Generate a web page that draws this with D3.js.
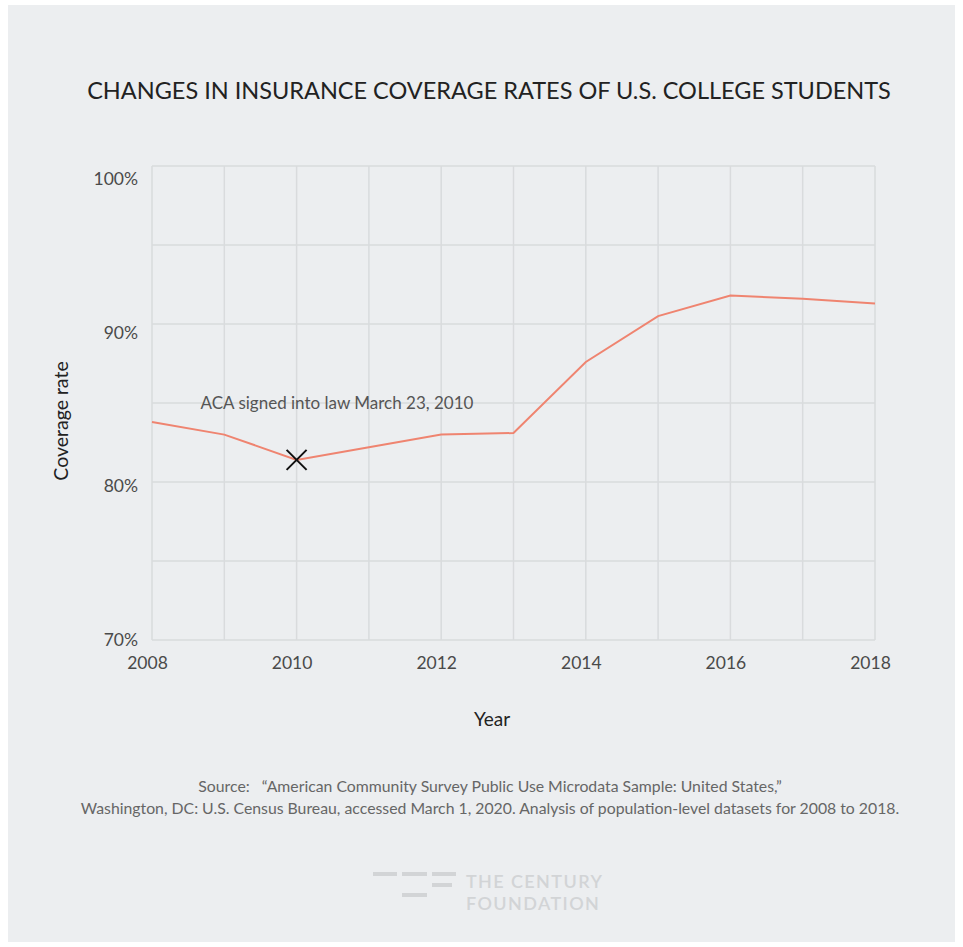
<!DOCTYPE html>
<html><head><meta charset="utf-8">
<script src="https://cdn.jsdelivr.net/npm/d3@7"></script>
<style>
html,body{margin:0;padding:0;background:#fff;}
svg{display:block;font-family:Lato, "Open Sans", sans-serif;}
</style></head>
<body>
<svg id="chart" width="963" height="947"></svg>
<script>
const years = [2008, 2009, 2010, 2011, 2012, 2013, 2014, 2015, 2016, 2017, 2018];
const coverage = [83.8, 83.0, 81.4, 82.2, 83.0, 83.1, 87.6, 90.5, 91.8, 91.6, 91.3];
const yTickValues = [70, 80, 90, 100];
const yGridValues = [70, 75, 80, 85, 90, 95, 100];
const xTickValues = [2008, 2010, 2012, 2014, 2016, 2018];
const annotationText = "ACA signed into law March 23, 2010";
const annotationYear = 2010;
const titleText = "CHANGES IN INSURANCE COVERAGE RATES OF U.S. COLLEGE STUDENTS";
const sourceLines = [
  "Source:   \u201cAmerican Community Survey Public Use Microdata Sample: United States,\u201d",
  "Washington, DC: U.S. Census Bureau, accessed March 1, 2020. Analysis of population-level datasets for 2008 to 2018."
];
const logoLines = ["THE CENTURY", "FOUNDATION"];

(function () {
const svg = d3.select("#chart");
svg.append("rect").attr("x", 8).attr("y", 5).attr("width", 947).attr("height", 937).attr("fill", "#eceef0");

const pL = 152, pR = 875, pT = 166, pB = 640;
const x = d3.scaleLinear().domain([2008, 2018]).range([pL, pR]);
const y = d3.scaleLinear().domain([70, 100]).range([pB, pT]);
// tick labels in the original sit on a slightly compressed scale
const yLab = d3.scaleLinear().domain([70, 100]).range([pB, pT + 13]);

// title
svg.append("text").attr("x", 489).attr("y", 99).attr("text-anchor", "middle")
  .attr("font-size", 23.5).attr("fill", "#222").text(titleText);

// grid
const g = svg.append("g");
g.selectAll("line.h").data(yGridValues).join("line").attr("class", "h")
  .attr("x1", pL).attr("x2", pR).attr("y1", d => y(d)).attr("y2", d => y(d))
  .attr("stroke", "#d9dbdd").attr("stroke-width", 1.5);
g.selectAll("line.v").data(years).join("line").attr("class", "v")
  .attr("x1", d => x(d)).attr("x2", d => x(d)).attr("y1", pT).attr("y2", pB)
  .attr("stroke", "#d9dbdd").attr("stroke-width", 1.5);

// axes
const yAxis = d3.axisLeft(yLab).tickValues(yTickValues).tickFormat(d => d + "%").tickSize(0).tickPadding(14);
const ya = svg.append("g").attr("transform", `translate(${pL},0)`).call(yAxis);
ya.select(".domain").remove();
ya.selectAll("text").attr("font-size", 17.5).attr("fill", "#4a4a4a").attr("font-family", "Lato, sans-serif");

const xAxis = d3.axisBottom(x).tickValues(xTickValues).tickFormat(d3.format("d")).tickSize(0).tickPadding(17);
const xa = svg.append("g").attr("transform", `translate(-5,${pB})`).call(xAxis);
xa.select(".domain").remove();
xa.selectAll("text").attr("font-size", 17.5).attr("fill", "#4a4a4a").attr("font-family", "Lato, sans-serif");

// axis titles
svg.append("text").attr("x", 492).attr("y", 726).attr("text-anchor", "middle")
  .attr("font-size", 19).attr("fill", "#222").text("Year");
svg.append("text").attr("transform", "translate(68,421) rotate(-90)").attr("text-anchor", "middle")
  .attr("font-size", 19.5).attr("fill", "#222").text("Coverage rate");

// line
const line = d3.line().x((d, i) => x(years[i])).y(d => y(d));
svg.append("path").datum(coverage).attr("d", line).attr("fill", "none")
  .attr("stroke", "#ef8470").attr("stroke-width", 2);

// annotation
const ai = years.indexOf(annotationYear);
const ax = x(annotationYear), ay = y(coverage[ai]);
const s = 10;
svg.append("path").attr("d", `M${ax - s},${ay - s}L${ax + s},${ay + s}M${ax - s},${ay + s}L${ax + s},${ay - s}`)
  .attr("stroke", "#111").attr("stroke-width", 2);
svg.append("text").attr("x", 337).attr("y", 409).attr("text-anchor", "middle")
  .attr("font-size", 17).attr("fill", "#555").text(annotationText);

// source
svg.selectAll("text.src").data(sourceLines).join("text").attr("class", "src")
  .attr("x", 490).attr("y", (d, i) => 792 + i * 22).attr("text-anchor", "middle")
  .style("white-space", "pre")
  .attr("font-size", 15.8).attr("fill", "#666").text(d => d);

// logo
const logo = svg.append("g").attr("fill", "#d2d4d6");
[[373,872,24],[402,872,25],[432,872,24],[432,883,20],[402,893,25]].forEach(b => {
  logo.append("rect").attr("x", b[0]).attr("y", b[1]).attr("width", b[2]).attr("height", 4);
});
logo.selectAll("text.logo").data(logoLines).join("text").attr("class", "logo")
  .attr("x", 466).attr("y", (d, i) => 888 + i * 22)
  .attr("font-size", 18).attr("font-weight", 600).attr("letter-spacing", 1.4).text(d => d);
})();
</script>
</body></html>
